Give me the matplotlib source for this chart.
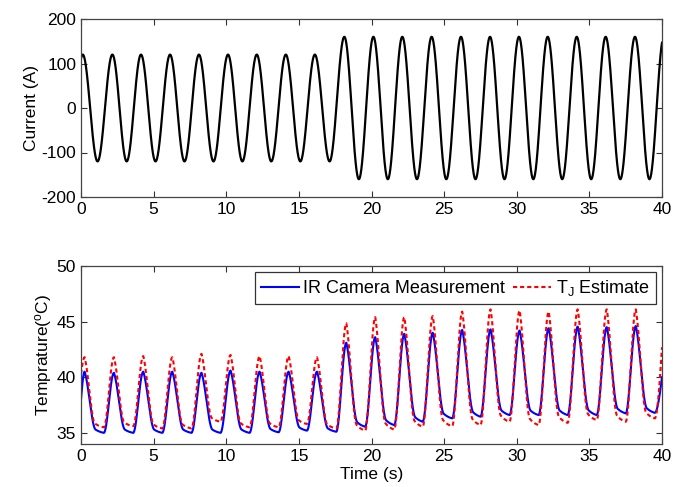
import numpy as np
import matplotlib
matplotlib.use("Agg")
import matplotlib.pyplot as plt

plt.rcParams['font.family'] = ['Liberation Sans', 'DejaVu Sans']
plt.rcParams['mathtext.fontset'] = 'custom'
plt.rcParams['mathtext.rm'] = 'Liberation Sans'
plt.rcParams['mathtext.it'] = 'Liberation Sans:italic'
plt.rcParams['axes.unicode_minus'] = False

FS = 12.5

# ---- load current: time of each positive peak and its amplitude (A) ----
current_peak_t = [0.12, 2.16, 4.13, 6.13, 8.12, 10.12, 12.10, 14.10, 16.10, 18.13,
                  20.13, 22.12, 24.14, 26.16, 28.16, 30.15, 32.13, 34.13, 36.12, 38.14]
current_amp = [120, 120, 120, 120, 120, 120, 120, 120, 120, 160,
               160, 160, 160, 160, 160, 160, 160, 160, 160, 160]
current_next_peak_t = 40.13

# ---- junction temperature: peak times, peaks and following troughs (degC) ----
temp_peak_t = [0.25, 2.27, 4.29, 6.29, 8.30, 10.30, 12.30, 14.30, 16.25, 18.27,
               20.26, 22.26, 24.22, 26.25, 28.20, 30.20, 32.20, 34.20, 36.20, 38.20]
ir_peak = [40.5, 40.4, 40.5, 40.5, 40.4, 40.6, 40.5, 40.5, 40.5, 43.1,
           43.6, 43.9, 44.0, 44.25, 44.3, 44.2, 44.4, 44.55, 44.5, 44.6]
ir_trough = [35.0, 35.0, 35.0, 35.0, 35.0, 35.0, 35.05, 35.2, 35.1, 35.55,
             35.7, 36.0, 36.3, 36.45, 36.6, 36.6, 36.6, 36.6, 36.75, 36.8]
tj_peak = [41.8, 41.8, 41.9, 41.8, 42.1, 42.0, 41.9, 41.9, 41.8, 44.85,
           45.4, 45.4, 45.5, 45.9, 46.1, 46.0, 45.9, 46.1, 46.1, 46.1]
tj_trough = [35.5, 35.6, 35.4, 35.4, 36.0, 35.5, 35.5, 35.8, 35.4, 35.2,
             35.3, 35.55, 35.6, 35.7, 36.0, 35.7, 35.9, 36.15, 36.0, 36.3]
ir_start, ir_end = 38.0, 40.0
tj_start, tj_end = 40.3, 42.7

T_END = 40.0
t = np.linspace(0, T_END, 8001)


def current_trace(t):
    ext_t, ext_v = [current_peak_t[0] - 1.0], [-current_amp[0]]
    peaks = list(current_peak_t) + [current_next_peak_t]
    for k, tp in enumerate(current_peak_t):
        ext_t += [tp, 0.5 * (tp + peaks[k + 1])]
        ext_v += [current_amp[k], -current_amp[k]]
    ext_t.append(current_next_peak_t)
    ext_v.append(current_amp[-1])
    ext_t, ext_v = np.array(ext_t), np.array(ext_v)
    i = np.clip(np.searchsorted(ext_t, t) - 1, 0, len(ext_t) - 2)
    u = (t - ext_t[i]) / (ext_t[i + 1] - ext_t[i])
    w = (1 - np.cos(np.pi * u)) / 2
    return ext_v[i] + (ext_v[i + 1] - ext_v[i]) * w


def thermal_trace(t, peak_t, peaks, troughs, start, end, rise=0.7, fall=0.75,
                  tail=0.35, tau=0.5):
    """Rise to each peak, then cool back toward the following trough."""
    y = np.full_like(t, np.nan)

    def g(s):
        c = (1 + np.cos(np.pi * np.minimum(s / fall, 1.0))) / 2
        return (1 - tail) * c + tail * np.exp(-s / tau)

    p0 = peak_t[0]
    m = t <= p0
    y[m] = start + (peaks[0] - start) * np.sin(0.5 * np.pi * t[m] / p0)
    n = len(peak_t)
    for k in range(n):
        tp = peak_t[k]
        tr = peak_t[k + 1] - rise if k + 1 < n else tp + 2.0 - rise
        S = tr - tp
        m = (t > tp) & (t <= tr)
        s = t[m] - tp
        y[m] = troughs[k] + (peaks[k] - troughs[k]) * (g(s) - g(S)) / (1 - g(S))
        if k + 1 < n:
            m = (t > tr) & (t <= peak_t[k + 1])
            u = (t[m] - tr) / rise
            y[m] = troughs[k] + (peaks[k + 1] - troughs[k]) * (1 - np.cos(np.pi * u)) / 2
        else:
            m = t > tr
            u = (t[m] - tr) / (T_END - tr)
            y[m] = troughs[k] + (end - troughs[k]) * (1 - np.cos(0.5 * np.pi * u))
    return y


current = current_trace(t)
ir = thermal_trace(t, temp_peak_t, ir_peak, ir_trough, ir_start, ir_end)
tj = thermal_trace(t, temp_peak_t, tj_peak, tj_trough, tj_start, tj_end,
                   fall=0.7, tau=0.45)

fig = plt.figure(figsize=(6.87, 4.87), dpi=100)
W, H = 687, 487
ax1 = fig.add_axes([81 / W, 1 - 197 / H, 581 / W, 178 / H])
ax2 = fig.add_axes([81 / W, 1 - 444 / H, 581 / W, 178 / H])

for ax in (ax1, ax2):
    ax.tick_params(direction='in', top=True, right=True, length=4, width=0.8,
                   labelsize=FS, pad=3.5, color='#333333')
    for sp in ax.spines.values():
        sp.set_color('#444444')
        sp.set_linewidth(0.9)
    ax.set_xlim(0, 40)
    ax.set_xticks(np.arange(0, 41, 5))

ax1.plot(t, current, color='black', lw=1.6)
ax1.set_ylim(-200, 200)
ax1.set_yticks([-200, -100, 0, 100, 200])
ax1.set_ylabel('Current (A)', fontsize=FS, labelpad=2)

ax2.plot(t, ir, color='#0000ff', lw=1.5, label='IR Camera Measurement')
ax2.plot(t, tj, color='#ff0000', lw=1.5, linestyle=(0, (2.0, 1.4)),
         label=r'T$_\mathregular{J}$ Estimate')
ax2.set_ylim(34, 50)
ax2.set_yticks([35, 40, 45, 50])
ax2.set_ylabel(r'Temprature($^\mathregular{o}$C)', fontsize=FS, labelpad=2)
ax2.set_xlabel('Time (s)', fontsize=FS, labelpad=2)

leg = ax2.legend(loc='upper right', ncol=2, fontsize=13, frameon=True, fancybox=False,
                 handlelength=2.1, handletextpad=0.25, columnspacing=0.45,
                 borderpad=0.35, borderaxespad=0.32)
leg.get_frame().set_edgecolor('#333333')
leg.get_frame().set_linewidth(0.9)
leg.get_frame().set_alpha(1.0)

fig.savefig('out.png', dpi=100)
